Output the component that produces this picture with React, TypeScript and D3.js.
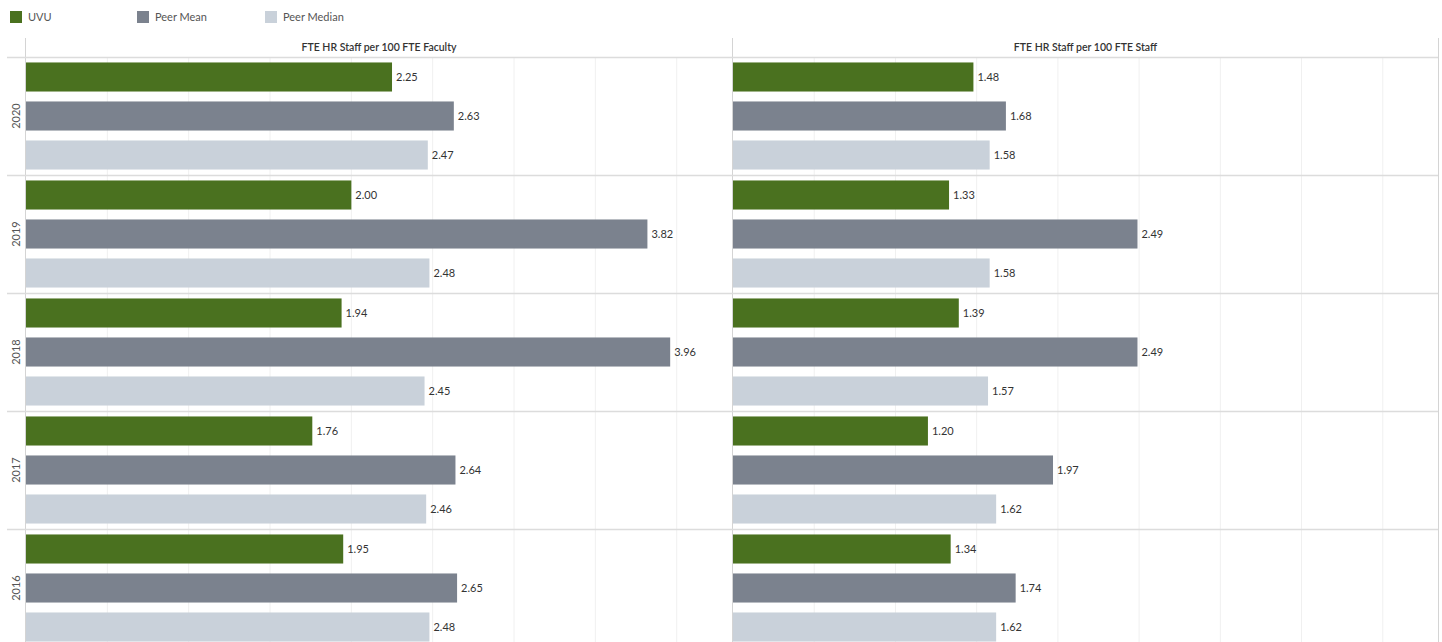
import React, { useRef, useEffect } from 'react';
import * as d3 from 'd3';

const years = ['2020', '2019', '2018', '2017', '2016'];
const seriesNames = ['UVU', 'Peer Mean', 'Peer Median'];
const panelTitles = ['FTE HR Staff per 100 FTE Faculty', 'FTE HR Staff per 100 FTE Staff'];

// values per year, in series order (UVU, Peer Mean, Peer Median)
const facultyUVU = [2.25, 2.0, 1.94, 1.76, 1.95];
const facultyMean = [2.63, 3.82, 3.96, 2.64, 2.65];
const facultyMedian = [2.47, 2.48, 2.45, 2.46, 2.48];
const staffUVU = [1.48, 1.33, 1.39, 1.2, 1.34];
const staffMean = [1.68, 2.49, 2.49, 1.97, 1.74];
const staffMedian = [1.58, 1.58, 1.57, 1.62, 1.62];

const gridTicks = [0.5, 1, 1.5, 2, 2.5, 3, 3.5, 4];

const COLORS = ['#4a711f', '#7b828e', '#c9d1da'];
const FONT = 'Lato, "Open Sans", sans-serif';

const App: React.FC = () => {
  const svgRef = useRef<SVGSVGElement | null>(null);

  useEffect(() => {
    if (!svgRef.current) return;
    const width = 1442;
    const height = 642;

    d3.select(svgRef.current).selectAll('*').remove();
    const svg = d3.select(svgRef.current)
      .attr('width', width)
      .attr('height', height)
      .style('font-family', FONT);

    const headerTop = 38;
    const headerBottom = 57;
    const rowH = 118;
    const panels = [
      { x0: 26, x1: 732, title: panelTitles[0], values: [facultyUVU, facultyMean, facultyMedian] },
      { x0: 733, x1: 1438, title: panelTitles[1], values: [staffUVU, staffMean, staffMedian] },
    ];

    const yRow = d3.scaleBand<string>()
      .domain(years)
      .range([headerBottom, headerBottom + rowH * years.length]);

    const ySeries = d3.scaleBand<string>()
      .domain(seriesNames)
      .range([0, rowH])
      .paddingInner(0.255)
      .paddingOuter(0.14);

    // Legend
    const legend = svg.append('g').attr('transform', 'translate(10, 10)');
    const legendX = [0, 127, 255];
    seriesNames.forEach((name, i) => {
      legend.append('rect')
        .attr('x', legendX[i])
        .attr('y', 1)
        .attr('width', 12)
        .attr('height', 12)
        .attr('fill', COLORS[i]);
      legend.append('text')
        .attr('x', legendX[i] + 18)
        .attr('y', 11)
        .attr('fill', '#555')
        .attr('font-size', '11px')
        .text(name);
    });

    panels.forEach((p) => {
      const x = d3.scaleLinear().domain([0, 4.34]).range([p.x0, p.x1]);
      const g = svg.append('g');

      // grid
      g.selectAll('.grid')
        .data(gridTicks)
        .enter()
        .append('line')
        .attr('x1', d => x(d))
        .attr('x2', d => x(d))
        .attr('y1', headerBottom)
        .attr('y2', height)
        .attr('stroke', '#f0f0f0')
        .attr('stroke-width', 1);

      // title
      g.append('text')
        .attr('x', (p.x0 + p.x1) / 2)
        .attr('y', 51)
        .attr('text-anchor', 'middle')
        .attr('fill', '#333')
        .attr('font-size', '10.5px')
        .attr('font-weight', '600')
        .text(p.title);

      years.forEach((yr, yi) => {
        const rg = g.append('g').attr('transform', `translate(0,${yRow(yr)})`);
        seriesNames.forEach((s, si) => {
          const v = p.values[si][yi];
          rg.append('rect')
            .attr('x', x(0))
            .attr('y', ySeries(s)!)
            .attr('width', x(v) - x(0))
            .attr('height', ySeries.bandwidth())
            .attr('fill', COLORS[si]);
          rg.append('text')
            .attr('x', x(v) + 4)
            .attr('y', ySeries(s)! + ySeries.bandwidth() / 2 + 4)
            .attr('fill', '#333')
            .attr('font-size', '11px')
            .text(v.toFixed(2));
        });
      });

      // panel left border
      g.append('line')
        .attr('x1', p.x0 - 0.5)
        .attr('x2', p.x0 - 0.5)
        .attr('y1', headerTop)
        .attr('y2', height)
        .attr('stroke', '#d4d4d4');
    });

    // right edge border
    svg.append('line')
      .attr('x1', 1438.5)
      .attr('x2', 1438.5)
      .attr('y1', headerTop)
      .attr('y2', height)
      .attr('stroke', '#d4d4d4');

    // header line and row separators
    const seps = [headerBottom, ...years.slice(1).map(y => yRow(y)!)];
    svg.selectAll('.sep')
      .data(seps)
      .enter()
      .append('line')
      .attr('x1', 7)
      .attr('x2', 1438)
      .attr('y1', d => d + 0.5)
      .attr('y2', d => d + 0.5)
      .attr('stroke', '#dcdcdc')
      .attr('stroke-width', 1.5);

    // year labels
    years.forEach(yr => {
      const cy = yRow(yr)! + rowH / 2;
      svg.append('text')
        .attr('transform', `translate(20,${cy}) rotate(-90)`)
        .attr('text-anchor', 'middle')
        .attr('fill', '#555')
        .attr('font-size', '11px')
        .text(yr);
    });
  }, []);

  return <svg ref={svgRef} style={{ position: 'absolute', left: 0, top: 0 }} />;
};

export default App;
